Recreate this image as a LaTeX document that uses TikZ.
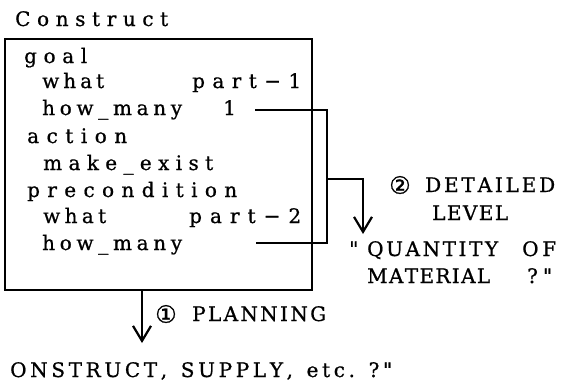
\documentclass[tikz,border=0pt]{standalone}
\usepackage{fontspec}
\setmainfont{DejaVu Serif}[Ligatures=TeXOff, FakeBold=0.8]
\newfontfamily\circfont{DejaVu Sans}[FakeBold=1]
\usetikzlibrary{arrows.meta}

% Set a string at a given total width, spreading its letters evenly
% (typewriter-like tracking).  Use ~ for a word space.
\makeatletter
\def\spreadto#1#2{\makebox[#1][s]{\spr@a#2\relax}}
\def\spr@a#1#2{#1\ifx#2\relax\else\hfil\expandafter\spr@a\expandafter#2\fi}
\makeatother

\begin{document}
\begin{tikzpicture}[x=1pt,y=-1pt,
  txt/.style={inner sep=0pt, anchor=base west, font=\fontsize{20}{24}\selectfont},
  frame/.style={draw, line width=1.8pt, inner sep=0pt, anchor=north west},
  conn/.style={line width=1.5pt},
  arr/.style={line width=1.5pt, -{Straight Barb[length=15pt,width=18pt,line width=2.2pt]}},
  circ/.style={inner sep=0pt, font=\circfont\fontsize{24}{28}\selectfont}]
\useasboundingbox (0,0) rectangle (570,381);

% title and frame
\node[txt] (title) at (15,26) {\spreadto{153pt}{Construct}};
\node[frame, minimum width=307pt, minimum height=251pt] (frame) at (4,38) {};

% frame contents
\node[txt] (goal)   at (24,63)  {\spreadto{63pt}{goal}};
\node[txt] (what1)  at (42,88)  {\spreadto{62pt}{what}};
\node[txt] (part1)  at (192,88) {\spreadto{109pt}{part−1}};
\node[txt] (many1)  at (42,115) {\spreadto{140pt}{how\_many}};
\node[txt] (one)    at (223,115) {1};
\node[txt] (action) at (27,143) {\spreadto{100pt}{action}};
\node[txt] (exist)  at (43,170) {\spreadto{170pt}{make\_exist}};
\node[txt] (precon) at (27,197) {\spreadto{210pt}{precondition}};
\node[txt] (what2)  at (43,223) {\spreadto{63pt}{what}};
\node[txt] (part2)  at (189,223) {\spreadto{112pt}{part−2}};
\node[txt] (many2)  at (42,250) {\spreadto{140pt}{how\_many}};

% bracket joining the two quantities, with its branch arrow
\coordinate (l1) at (255,110);
\coordinate (l2) at (256,243);
\coordinate (c1) at (327,110);
\coordinate (c2) at (327,243);
\coordinate (br) at (327,179);
\coordinate (bk) at (363,179);
\coordinate (tip2) at (363,234);
\draw[conn] (l1) -- (c1) -- (c2) -- (l2);
\draw[arr] (br) -- (bk) -- (tip2);

% detailed level labels
\node[circ] (n2) at (400,185) {②};
\node[txt] (detailed) at (425,192) {\spreadto{130pt}{DETAILED}};
\node[txt] (level)    at (432,220) {\spreadto{76pt}{LEVEL}};
\node[txt] (oq)       at (349,256) {"};
\node[txt] (quantity) at (367,256) {\spreadto{131pt}{QUANTITY}};
\node[txt] (of)       at (522,256) {\spreadto{34pt}{OF}};
\node[txt] (material) at (367,283) {\spreadto{123pt}{MATERIAL}};
\node[txt] (cq)       at (527,283) {\spreadto{25pt}{?"}};

% planning arrow and labels
\coordinate (tip1) at (142,343);
\draw[arr] (frame.south -| tip1) -- (tip1);
\node[circ] (n1) at (166,314) {①};
\node[txt] (planning) at (192,321) {\spreadto{134pt}{PLANNING}};
\node[txt] (bottom) at (10,377) {\spreadto{382pt}{ONSTRUCT,~SUPPLY,~etc.~?"}};
\end{tikzpicture}
\end{document}
